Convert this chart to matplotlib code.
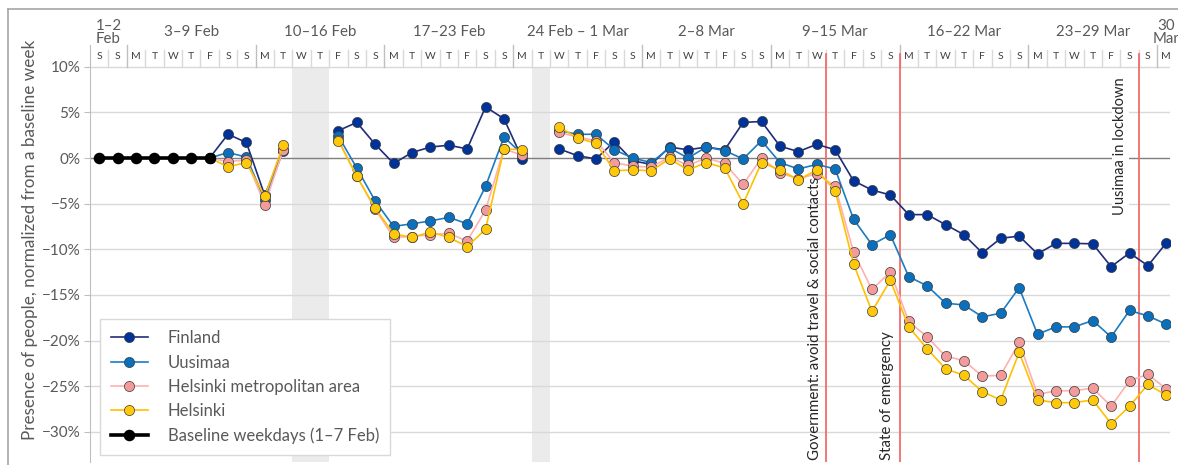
import numpy as np
import pandas as pd
import matplotlib
matplotlib.use("Agg")
import matplotlib.pyplot as plt
from matplotlib.lines import Line2D
from matplotlib.patches import Rectangle

nan = np.nan

# ---------------- data ----------------
dates = pd.date_range("2020-02-01", "2020-03-30", freq="D")

finland = [nan, nan, nan, nan, nan, nan, 0.0, 2.6, 1.7, -4.1, 0.9, nan, nan,
           3.0, 3.9, 1.5, -0.6, 0.6, 1.2, 1.4, 1.0, 5.6, 4.3, -0.1, nan,
           1.0, 0.25, -0.1, 1.8, -0.3, -0.7, 1.2, 0.9, 1.2, 0.9, 3.9, 4.0,
           1.3, 0.7, 1.5, 0.9, -2.5, -3.5, -4.05, -6.2, -6.2, -7.3, -8.4,
           -10.4, -8.8, -8.55, -10.5, -9.35, -9.35, -9.4, -11.9, -10.4, -11.8, -9.3]

uusimaa = [nan, nan, nan, nan, nan, nan, 0.0, 0.6, 0.1, -4.6, 0.8, nan, nan,
           2.4, -1.1, -4.7, -7.5, -7.2, -6.9, -6.5, -7.2, -3.1, 2.3, 0.4, nan,
           3.0, 2.6, 2.6, 0.9, 0.0, -0.5, 1.1, 0.0, 1.2, 0.8, -0.1, 1.9,
           -0.5, -1.2, -0.7, -1.2, -6.7, -9.5, -8.4, -13.0, -14.0, -15.9, -16.1,
           -17.4, -17.0, -14.2, -19.3, -18.5, -18.5, -17.8, -19.6, -16.7, -17.3, -18.2]

hma = [nan, nan, nan, nan, nan, nan, 0.0, -0.4, -0.2, -5.1, 0.9, nan, nan,
       2.0, -2.0, -5.6, -8.7, -8.6, -8.4, -8.25, -9.1, -5.7, 1.0, 0.3, nan,
       2.8, 2.3, 1.9, -0.5, -0.9, -1.0, 0.1, -0.8, 0.0, -0.6, -2.9, 0.0,
       -1.6, -2.3, -1.7, -3.1, -10.3, -14.4, -12.5, -17.9, -19.6, -21.7, -22.2,
       -23.9, -23.8, -20.2, -25.9, -25.5, -25.5, -25.2, -27.2, -24.4, -23.7, -25.3]

helsinki = [nan, nan, nan, nan, nan, nan, 0.0, -0.95, -0.5, -4.2, 1.4, nan, nan,
            1.9, -2.0, -5.5, -8.3, -8.7, -8.1, -8.7, -9.7, -7.8, 1.0, 0.9, nan,
            3.4, 2.2, 1.6, -1.4, -1.3, -1.4, -0.1, -1.3, -0.5, -1.1, -5.0, -0.5,
            -1.3, -2.4, -1.3, -3.6, -11.6, -16.8, -13.4, -18.5, -20.9, -23.1, -23.8,
            -25.6, -26.5, -21.3, -26.5, -26.8, -26.8, -26.5, -29.1, -27.2, -24.8, -26.0]

baseline = [0.0] * 7 + [nan] * 52

series_names = ["Finland", "Uusimaa", "Helsinki metropolitan area", "Helsinki",
                "Baseline weekdays (1–7 Feb)"]

week_labels = ["1–2\nFeb", "3–9 Feb", "10–16 Feb", "17–23 Feb", "24 Feb – 1 Mar",
               "2–8 Mar", "9–15 Mar", "16–22 Mar", "23–29 Mar", "30\nMar"]

missing_days = ["2020-02-12", "2020-02-13", "2020-02-25"]

event_dates = ["2020-03-12", "2020-03-16", "2020-03-29"]
event_labels = ["Government: avoid travel & social contacts", "State of emergency",
                "Uusimaa in lockdown"]

yticks = [10, 5, 0, -5, -10, -15, -20, -25, -30]

# ---------------- style ----------------
plt.rcParams["font.family"] = ["Lato", "DejaVu Sans"]
txt = "#595959"

fig = plt.figure(figsize=(11.78, 4.65), dpi=100)
W, H = 1178, 465
ax = fig.add_axes([90 / W, 3 / H, 1080 / W, 417 / H])
x = np.arange(len(dates))
ax.set_xlim(-0.5, 58.2)
ytop = 12.38
ax.set_ylim(-33.3, ytop)

# frame of the whole picture
fig.add_artist(Line2D([8 / W, 1], [1 - 9 / H, 1 - 9 / H], transform=fig.transFigure,
                      color="#a6a6a6", lw=1.2))
fig.add_artist(Line2D([8 / W, 8 / W], [0, 1 - 9 / H], transform=fig.transFigure,
                      color="#a6a6a6", lw=1.2))

# missing-day shading
idx_of = {d.strftime("%Y-%m-%d"): i for i, d in enumerate(dates)}
for d in missing_days:
    i = idx_of[d]
    ax.add_patch(Rectangle((i - 0.5, -40), 1, 50, color="#ebebeb", lw=0, zorder=0))

# grid lines
for yv in yticks:
    ax.axhline(yv, color="#7f7f7f" if yv == 0 else "#d9d9d9", lw=1.0, zorder=1)

# header: day letters and separators
for i, d in enumerate(dates):
    ax.text(i, 11.07, d.day_name()[0], ha="center", va="center", fontsize=7.5,
            color="#404040", zorder=3)
    if i < len(dates) - 1:
        is_week = dates[i + 1].dayofweek == 0
        ax.plot([i + 0.5, i + 0.5], [10, ytop if is_week else 11.8],
                color="#bfbfbf" if is_week else "#d9d9d9", lw=1.0, zorder=2,
                clip_on=False)

# week labels
weeks = pd.Series(x).groupby((dates.dayofweek == 0).cumsum()).mean().values
for lab, c in zip(week_labels, weeks):
    ax.text(c, 13.75, lab, ha="center", va="center", fontsize=10.8, color=txt,
            clip_on=False, linespacing=0.95)

# events
for d, lab in zip(event_dates, event_labels):
    xe = idx_of[d] - 0.5
    ax.plot([xe, xe], [-40, 11.4], color="#f36b6b", lw=1.3, zorder=4, clip_on=True)
ax.text(idx_of[event_dates[0]] - 1.1, -33.1, event_labels[0], rotation=90, ha="center",
        va="bottom", fontsize=10.8, color="#262626", zorder=6)
ax.text(idx_of[event_dates[1]] - 1.2, -33.1, event_labels[1], rotation=90, ha="center",
        va="bottom", fontsize=10.8, color="#262626", zorder=6)
ax.text(idx_of[event_dates[2]] - 1.5, 8.8, event_labels[2], rotation=90, ha="center",
        va="top", fontsize=10.5, color="#262626", zorder=6,
        bbox=dict(facecolor="white", edgecolor="none", pad=1))

# series
styles = [
    dict(color="#1f2d7a", mfc="#00339a", lw=1.2),
    dict(color="#1b7cc4", mfc="#0a70bd", lw=1.2),
    dict(color="#ffb0b0", mfc="#f39a9a", lw=1.2),
    dict(color="#ffc000", mfc="#ffc80a", lw=1.2),
]
handles = []
for vals, name, st in zip([finland, uusimaa, hma, helsinki], series_names[:4], styles):
    h, = ax.plot(x, vals, color=st["color"], lw=st["lw"], marker="o", ms=7.3,
                 mfc=st["mfc"], mec="#3a3a3a", mew=0.5, zorder=5, label=name)
    handles.append(h)
hb, = ax.plot(x, baseline, color="black", lw=2.6, marker="o", ms=7.3, mfc="black",
              mec="black", zorder=6, label=series_names[4])
handles.append(hb)

# axes styling
for s in ["top", "right", "bottom"]:
    ax.spines[s].set_visible(False)
ax.spines["left"].set_color("#bfbfbf")
ax.set_xticks([])
ax.set_yticks(yticks)
ax.set_yticklabels([f"{v}%".replace("-", "−") for v in yticks], fontsize=11, color=txt)
ax.tick_params(axis="y", length=4, color="#bfbfbf", pad=3)
fig.text(30 / W, 1 - 240 / H, "Presence of people, normalized from a baseline week",
         rotation=90, ha="center", va="center", fontsize=12.3, color=txt)

leg = ax.legend(handles=handles, loc="lower left", bbox_to_anchor=(10 / 1080, 7 / 417),
                fontsize=12, frameon=True, fancybox=False, edgecolor="#d9d9d9",
                framealpha=1, handlelength=2.2, labelspacing=0.5, borderpad=0.65,
                handletextpad=1.2, borderaxespad=0)
for t in leg.get_texts():
    t.set_color(txt)
leg.set_zorder(10)

fig.savefig("out.png", dpi=100)
